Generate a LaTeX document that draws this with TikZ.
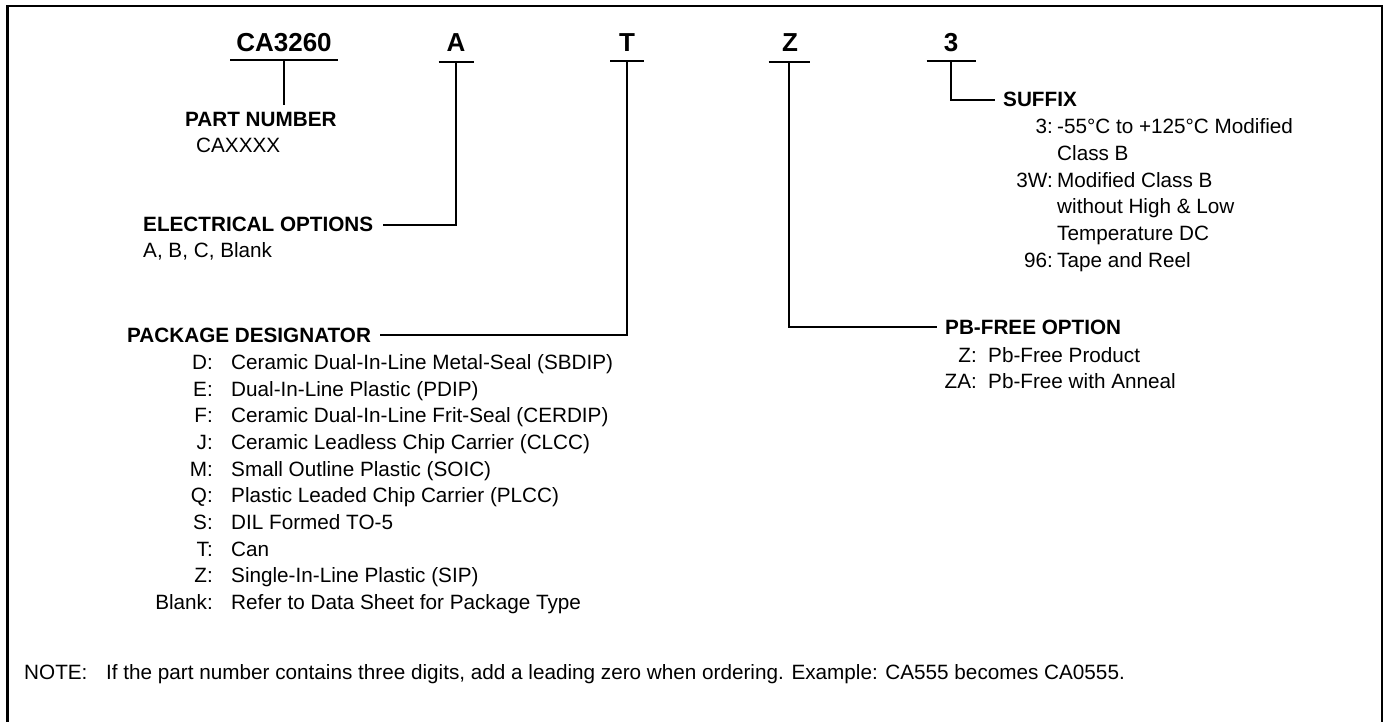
\documentclass[tikz,border=0pt]{standalone}
\usepackage{fontspec}
\setmainfont{Liberation Sans}
\begin{document}
\begin{tikzpicture}[x=1pt,y=-1pt,
  txt/.style={inner sep=0pt, font=\fontsize{20.7}{26.7}\selectfont},
  hdr/.style={inner sep=0pt, font=\fontsize{20.7}{26.7}\selectfont\bfseries},
  big/.style={inner sep=0pt, font=\fontsize{26}{30}\selectfont\bfseries},
  ln/.style={line width=2pt}]
\useasboundingbox (0,0) rectangle (1384,722);
\draw[line width=2.2pt] (7.5,760) -- (7.5,6) -- (1382,6) -- (1382,760);

% top code letters
\node[big, anchor=base] (tCA) at (284,52) {CA3260};
\node[big, anchor=base] (tA) at (456,52) {A};
\node[big, anchor=base] (tT) at (627,52) {T};
\node[big, anchor=base] (tZ) at (790,52) {Z};
\node[big, anchor=base] (t3) at (951,52) {3};
\coordinate (uCA) at (284,60);
\coordinate (uA) at (456,62);
\coordinate (uT) at (627,61);
\coordinate (uZ) at (789,62);
\coordinate (u3) at (951,61);
\draw[ln] ([xshift=-54pt]uCA) -- ([xshift=54pt]uCA);
\draw[ln] ([xshift=-17.5pt]uA) -- ([xshift=17.5pt]uA);
\draw[ln] ([xshift=-17pt]uT) -- ([xshift=17pt]uT);
\draw[ln] ([xshift=-20.5pt]uZ) -- ([xshift=20.5pt]uZ);
\draw[ln] ([xshift=-24.5pt]u3) -- ([xshift=24.5pt]u3);

% part number
\node[hdr, anchor=base west] (pn) at (185,127) {PART NUMBER};
\node[txt, anchor=base west] (pnv) at (196,153) {CAXXXX};
\draw[ln, shorten >=8pt] (uCA) -- (uCA |- pn.north);

% electrical options
\node[hdr, anchor=base west] (eo) at (143,232) {ELECTRICAL OPTIONS};
\node[txt, anchor=base west] (eov) at (143,258) {A, B, C, Blank};
\draw[ln, shorten >=10pt] (uA) |- (eo.east);

% package designator
\node[hdr, anchor=base west] (pk) at (127,342) {PACKAGE DESIGNATOR};
\draw[ln, shorten >=9pt] (uT) |- (pk.east);
\foreach \l/\d [count=\i from 0] in {
  D/Ceramic Dual-In-Line Metal-Seal (SBDIP),
  E/Dual-In-Line Plastic (PDIP),
  F/Ceramic Dual-In-Line Frit-Seal (CERDIP),
  J/Ceramic Leadless Chip Carrier (CLCC),
  M/Small Outline Plastic (SOIC),
  Q/Plastic Leaded Chip Carrier (PLCC),
  S/DIL Formed TO-5,
  T/Can,
  Z/Single-In-Line Plastic (SIP),
  Blank/Refer to Data Sheet for Package Type} {
  \node[txt, anchor=base east] (pl\i) at (213,{369.4+26.67*\i}) {\l:};
  \node[txt, anchor=base west] (pd\i) at (231,{369.4+26.67*\i}) {\d};
}

% pb-free option
\node[hdr, anchor=base west] (pbf) at (945,334.5) {PB-FREE OPTION};
\draw[ln, shorten >=8pt] (uZ) |- (pbf.west);
\node[txt, anchor=base east] (zl1) at (977,362.5) {Z:};
\node[txt, anchor=base west] (zd1) at (988,362.5) {Pb-Free Product};
\node[txt, anchor=base east] (zl2) at (977,388.5) {ZA:};
\node[txt, anchor=base west] (zd2) at (988,388.5) {Pb-Free with Anneal};

% suffix
\node[hdr, anchor=base west] (suf) at (1003,107) {SUFFIX};
\draw[ln, shorten >=8pt] (u3) |- (suf.west);
\node[txt, anchor=base east] (sl1) at (1053,134) {3:};
\node[txt, anchor=base west] (sd1) at (1057,134) {-55°C to +125°C Modified};
\node[txt, anchor=base west] (sd2) at (1057,160.7) {Class B};
\node[txt, anchor=base east] (sl3) at (1053,187.3) {3W:};
\node[txt, anchor=base west] (sd3) at (1057,187.3) {Modified Class B};
\node[txt, anchor=base west] (sd4) at (1057,214) {without High \& Low};
\node[txt, anchor=base west] (sd5) at (1057,240.7) {Temperature DC};
\node[txt, anchor=base east] (sl6) at (1053,267.3) {96:};
\node[txt, anchor=base west] (sd6) at (1057,267.3) {Tape and Reel};

% note
\node[txt, anchor=base west] (nt) at (24,679.5) {NOTE:};
\node[txt, anchor=base west] (ntx) at (106,679.5) {If the part number contains three digits, add a leading zero when ordering. Example: CA555 becomes CA0555.};
\end{tikzpicture}
\end{document}
